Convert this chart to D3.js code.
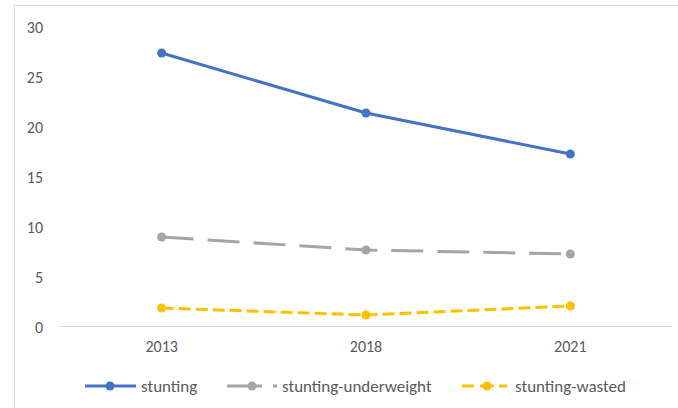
<!DOCTYPE html>
<html>
<head>
<meta charset="utf-8">
<script src="https://cdn.jsdelivr.net/npm/d3@7"></script>
<style>
  html, body { margin: 0; padding: 0; background: #fff; }
  svg { display: block; }
  text { font-family: Carlito, "Open Sans", "Noto Sans", sans-serif; }
</style>
</head>
<body>
<svg id="chart" width="678" height="408"></svg>
<script>
// Survey years and the three series (%)
const years = ["2013", "2018", "2021"];
const stunting = [27.3, 21.3, 17.2];
const stuntingUnderweight = [8.9, 7.6, 7.2];
const stuntingWasted = [1.8, 1.1, 2.0];
const yTicks = [0, 5, 10, 15, 20, 25, 30];

const series = [
  { name: "stunting", values: stunting, color: "#4472C4", dash: null },
  { name: "stunting-underweight", values: stuntingUnderweight, color: "#A5A5A5", dash: "32,14" },
  { name: "stunting-wasted", values: stuntingWasted, color: "#FFC000", dash: "12,5" }
];

const svg = d3.select("#chart");
const W = 678, H = 408;
const FONT = "16px";
const LEGEND_FONT = "17px";

// chart frame
svg.append("rect")
  .attr("x", 14.5).attr("y", 5.5)
  .attr("width", W).attr("height", H)
  .attr("fill", "none").attr("stroke", "#D9D9D9").attr("stroke-width", 1);

const x = d3.scaleBand().domain(years).range([59.5, 672.5]);
const y = d3.scaleLinear().domain([0, 30]).range([326, 26]);

// baseline
svg.append("line")
  .attr("x1", x.range()[0]).attr("x2", x.range()[1])
  .attr("y1", y(0) + 0.5).attr("y2", y(0) + 0.5)
  .attr("stroke", "#D9D9D9").attr("stroke-width", 1);

// y axis labels
const yAxis = d3.axisLeft(y).tickValues(yTicks).tickSize(0).tickPadding(0);
const gy = svg.append("g").attr("transform", "translate(43,1)").call(yAxis);
gy.select(".domain").remove();
gy.selectAll("text").attr("fill", "#595959").style("font-size", FONT);

// x axis labels
const xAxis = d3.axisBottom(x).tickSize(0).tickPadding(0);
const gx = svg.append("g").attr("transform", "translate(0,341)").call(xAxis);
gx.select(".domain").remove();
gx.selectAll("text").attr("fill", "#595959").style("font-size", FONT);

const cx = d => x(d) + x.bandwidth() / 2;
const line = d3.line().x((d, i) => cx(years[i])).y(d => y(d));

series.forEach(s => {
  svg.append("path")
    .datum(s.values)
    .attr("d", line)
    .attr("fill", "none")
    .attr("stroke", s.color)
    .attr("stroke-width", 3)
    .attr("stroke-dasharray", s.dash)
    .attr("stroke-linejoin", "round");
  svg.selectAll(null)
    .data(s.values)
    .enter().append("circle")
    .attr("cx", (d, i) => cx(years[i]))
    .attr("cy", d => y(d))
    .attr("r", 4.5)
    .attr("fill", s.color);
});

// legend
const legendY = 386;
const legendItems = [
  { s: series[0], segs: [[85, 136]], mx: 110, tx: 141 },
  { s: series[1], segs: [[227, 262], [273, 277]], mx: 252, tx: 282 },
  { s: series[2], segs: [[462, 474], [480, 494], [499, 507]], mx: 487, tx: 515 }
];
const lg = svg.append("g");
legendItems.forEach(it => {
  it.segs.forEach(sg => {
    lg.append("line")
      .attr("x1", sg[0]).attr("x2", sg[1])
      .attr("y1", legendY).attr("y2", legendY)
      .attr("stroke", it.s.color).attr("stroke-width", 3);
  });
  lg.append("circle")
    .attr("cx", it.mx).attr("cy", legendY).attr("r", 4.5)
    .attr("fill", it.s.color);
  lg.append("text")
    .attr("x", it.tx).attr("y", legendY)
    .attr("dy", "0.33em")
    .attr("fill", "#595959")
    .style("font-size", LEGEND_FONT)
    .text(it.s.name);
});
</script>
</body>
</html>
